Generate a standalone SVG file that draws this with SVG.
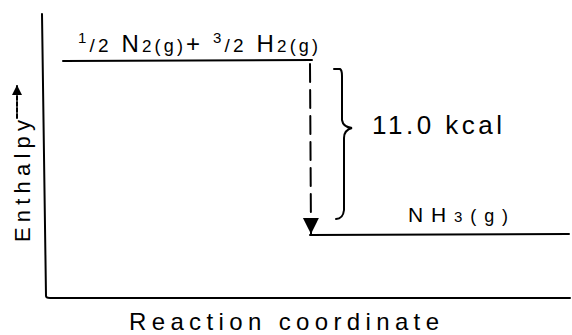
<svg xmlns="http://www.w3.org/2000/svg" width="572" height="335" viewBox="0 0 572 335">
<defs>
<style>
.ln{stroke:#000;stroke-width:2;fill:none;stroke-linecap:round}
.t{font-family:"Liberation Sans","DejaVu Sans",sans-serif;fill:#000}
</style>
<marker id="ah" markerWidth="10" markerHeight="10" refX="9" refY="5" orient="auto" markerUnits="userSpaceOnUse">
<path d="M0,0 L10,5 L0,10 Z" fill="#000"/>
</marker>
<marker id="ahb" markerWidth="18" markerHeight="18" refX="16" refY="9" orient="auto" markerUnits="userSpaceOnUse">
<path d="M0,1 L16,9 L0,17 Z" fill="#000"/>
</marker>
</defs>
<rect width="572" height="335" fill="#fff"/>
<g id="axes">
<path class="ln" d="M42,14 L46,296 Q46,298 50,298 L570,298"/>
<text class="t" x="284" y="330" font-size="24" textLength="310" lengthAdjust="spacing" text-anchor="middle">Reaction coordinate</text>
<text class="t" transform="translate(30,242) rotate(-90)" font-size="22" textLength="122" lengthAdjust="spacing">Enthalpy</text>
<line class="ln" x1="17" y1="118" x2="17" y2="86" stroke-dasharray="4,2" stroke-width="1.5" marker-end="url(#ah)"/>
</g>
<g id="reactants">
<line class="ln" x1="63" y1="61" x2="312" y2="60"/>
<text class="t" x="78" y="52" font-size="24" textLength="240" lengthAdjust="spacing"><tspan font-size="15" dy="-9">1</tspan><tspan font-size="19" dy="9">/</tspan><tspan font-size="19">2</tspan> N<tspan font-size="17">2</tspan><tspan font-size="18">(g)</tspan>+ <tspan font-size="15" dy="-9">3</tspan><tspan font-size="19" dy="9">/</tspan><tspan font-size="19">2</tspan> H<tspan font-size="17">2</tspan><tspan font-size="18">(g)</tspan></text>
</g>
<g id="products">
<line class="ln" x1="310" y1="235" x2="569" y2="234"/>
<text class="t" x="408" y="222" font-size="21" textLength="100" lengthAdjust="spacing">NH<tspan font-size="15">3</tspan><tspan font-size="18">(g)</tspan></text>
</g>
<g id="delta">
<path class="ln" d="M334,69 L340,69 Q342,70 342,76 L342,120 Q343,127 352,128 Q344,130 344,138 L344,210 Q343,219 336,219"/>
<text class="t" x="372" y="134" font-size="26" textLength="130" lengthAdjust="spacing">11.0 kcal</text>
</g>
<g id="connectors">
<line class="ln" x1="310" y1="64" x2="311" y2="234" stroke-dasharray="18,8" marker-end="url(#ahb)"/>
</g>
</svg>
